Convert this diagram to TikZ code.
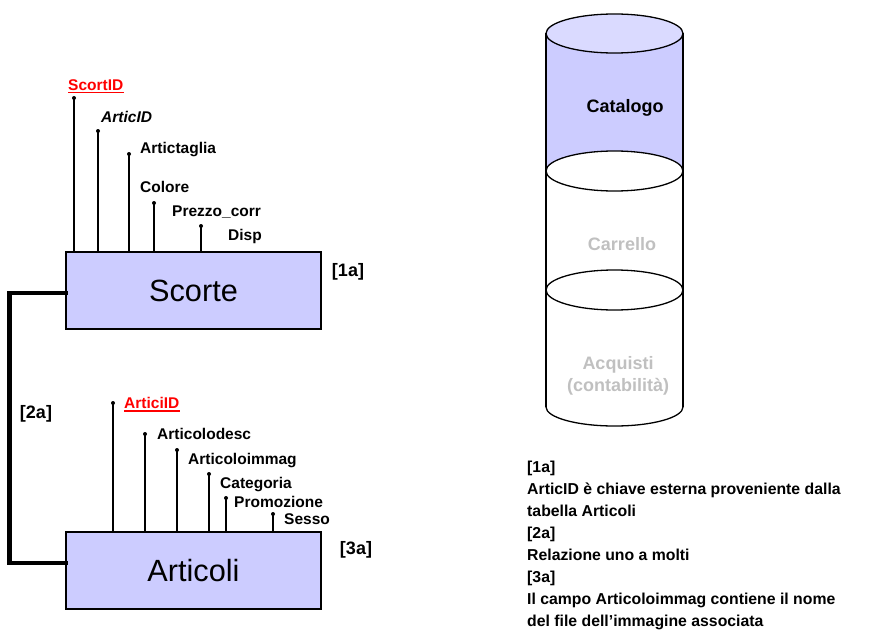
\documentclass[tikz,border=0pt]{standalone}
\usepackage{fontspec}
\setmainfont{Liberation Sans}
\definecolor{boxfill}{HTML}{CCCCFF}
\definecolor{lidfill}{HTML}{DADAFF}
\definecolor{keyred}{HTML}{FF0000}
\definecolor{faded}{HTML}{C0C0C0}
\begin{document}
\begin{tikzpicture}[x=1pt,y=-1pt,
  entity/.style={draw, line width=1.5pt, fill=boxfill, minimum width=255pt,
    minimum height=77pt, inner sep=0pt, font=\fontsize{30.7}{36}\selectfont},
  attr/.style={inner sep=0pt, anchor=base west, font=\bfseries\fontsize{15.5}{18}\selectfont},
  keyattr/.style={attr, text=keyred},
  pin/.style={line width=1.3pt},
  rel/.style={line width=4.5pt, line join=miter, line cap=rect},
  tag/.style={inner sep=0pt, font=\bfseries\fontsize{18}{21}\selectfont},
  note/.style={inner sep=0pt, anchor=base west, font=\bfseries\fontsize{15.8}{19}\selectfont},
  drum/.style={line width=1.3pt},
  drumtext/.style={inner sep=0pt, align=center, font=\bfseries\fontsize{18}{22}\selectfont}]
\useasboundingbox (0,0) rectangle (870,634);

% ---------- Scorte table ----------
\node[entity] (sc) at (193.5,290.5) {Scorte};
\foreach \n/\x/\y in {s1/74/98, s2/98/131, s3/129/154, s4/154/203, s5/201/226}{
  \coordinate (\n) at (\x,\y);
  \draw[pin] (\n) -- (\n |- sc.north);
  \fill (\n) circle (2pt);
}
\node[keyattr] (scid) at (68,90.5) {ScortID};
\draw[keyred, line width=1.4pt] ([yshift=-2pt]scid.base west) -- ([yshift=-2pt]scid.base east);
\node[attr, font=\bfseries\itshape\fontsize{15.5}{18}\selectfont] (sart) at (101,122.5) {ArticID};
\node[attr] (stag) at (140,153.5) {Artictaglia};
\node[attr] (scol) at (140,192.5) {Colore};
\node[attr] (sprz) at (172,216.5) {Prezzo\_corr};
\node[attr] (sdsp) at (228,240.5) {Disp};
\node[tag] (t1) at (348,272) {[1a]};

% ---------- Articoli table ----------
\node[entity] (ar) at (193.5,570.5) {Articoli};
\foreach \n/\x/\y in {a1/113/403, a2/145/434, a3/177/450, a4/209/474, a5/226/498, a6/273/514}{
  \coordinate (\n) at (\x,\y);
  \draw[pin] (\n) -- (\n |- ar.north);
  \fill (\n) circle (2pt);
}
\node[keyattr] (arid) at (124,408.5) {ArticiID};
\draw[keyred, line width=1.4pt] ([yshift=-2.5pt]arid.base west) -- ([yshift=-2.5pt]arid.base east);
\node[attr] (ades) at (157,439.5) {Articolodesc};
\node[attr] (aimg) at (188,464.5) {Articoloimmag};
\node[attr] (acat) at (220,488.5) {Categoria};
\node[attr] (apro) at (234,507.5) {Promozione};
\node[attr] (asex) at (284,524.5) {Sesso};
\node[tag] (t3) at (356,550) {[3a]};

% ---------- one-to-many link ----------
\draw[rel] ([yshift=-2.5pt]sc.west) -- ++(-56,0) |- ([yshift=7.5pt]ar.west);
\node[tag] (t2) at (36,414) {[2a]};

% ---------- database drum ----------
\fill[boxfill] (546,33.5) rectangle (683,171);
\filldraw[drum, fill=lidfill] (614.5,33.5) ellipse [x radius=68.5pt, y radius=19.5pt];
\draw[drum] (546,33.5) -- (546,407);
\draw[drum] (683,33.5) -- (683,407);
\filldraw[drum, fill=white] (614.5,171) ellipse [x radius=68.5pt, y radius=20pt];
\filldraw[drum, fill=white] (614.5,290) ellipse [x radius=68.5pt, y radius=20pt];
\draw[drum] (683,407) arc[start angle=0, end angle=-180, x radius=68.5pt, y radius=19pt];
\node[drumtext] (cat) at (625,108) {Catalogo};
\node[drumtext, text=faded] (car) at (622,244) {Carrello};
\node[drumtext, text=faded] (acq) at (618,376) {Acquisti\\(contabilità)};

% ---------- notes ----------
\node[note] (n1) at (527,472) {[1a]};
\node[note] (n2) at (527,494.1) {ArticID è chiave esterna proveniente dalla};
\node[note] (n3) at (527,516.3) {tabella Articoli};
\node[note] (n4) at (527,538.4) {[2a]};
\node[note] (n5) at (527,560.6) {Relazione uno a molti};
\node[note] (n6) at (527,582.7) {[3a]};
\node[note] (n7) at (527,604.9) {Il campo Articoloimmag contiene il nome};
\node[note] (n8) at (527,626.5) {del file dell’immagine associata};
\end{tikzpicture}
\end{document}
